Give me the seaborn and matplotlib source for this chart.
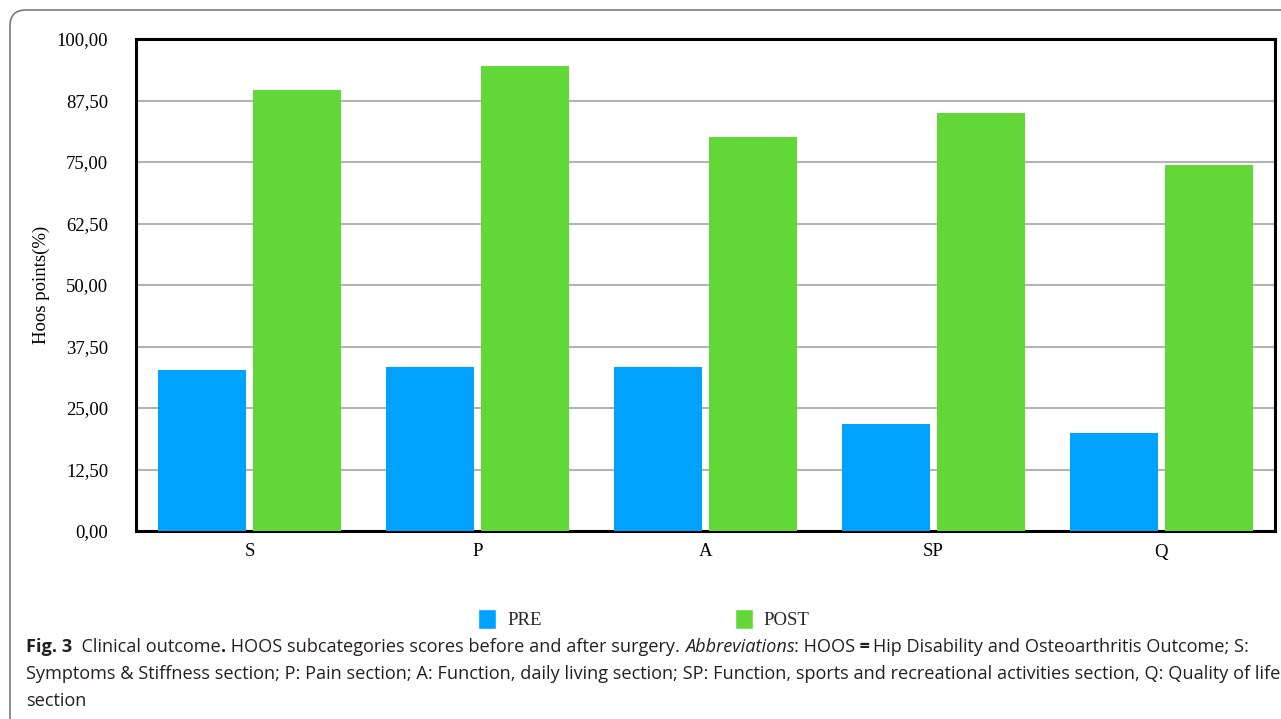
import pandas as pd
import numpy as np
import matplotlib
matplotlib.use("Agg")
import matplotlib.pyplot as plt
import seaborn as sns
from matplotlib.patches import FancyBboxPatch, Patch
from matplotlib.ticker import FuncFormatter

# data
sections = ["S", "P", "A", "SP", "Q"]
pre_scores = [32.7, 33.3, 33.3, 21.7, 19.9]
post_scores = [89.6, 94.5, 80.1, 85.0, 74.4]
periods = ["PRE", "POST"]
y_ticks = [0, 12.5, 25, 37.5, 50, 62.5, 75, 87.5, 100]

df = pd.DataFrame({
    "Section": sections * 2,
    "Score": pre_scores + post_scores,
    "Period": [periods[0]] * len(sections) + [periods[1]] * len(sections),
})

BLUE = "#00A2FF"
GREEN = "#62D838"

sns.set_theme(style="white")
plt.rcParams["font.family"] = ["Liberation Serif", "DejaVu Serif"]

fig = plt.figure(figsize=(12.81, 7.19), dpi=100)
ax = fig.add_axes([136 / 1281, 1 - 531 / 719, (1275 - 136) / 1281, (531 - 39) / 719])

sns.barplot(data=df, x="Section", y="Score", hue="Period", palette=[BLUE, GREEN],
            width=0.834, gap=0.074, legend=False, ax=ax, zorder=3, saturation=1,
            linewidth=0, edgecolor="none")

ax.set_ylim(0, 100)
ax.set_yticks(y_ticks)
ax.yaxis.set_major_formatter(FuncFormatter(lambda v, p: f"{v:.2f}".replace(".", ",")))
ax.grid(axis="y", color="#B3B3B3", linewidth=1.5, zorder=0)
ax.set_axisbelow(True)
ax.tick_params(axis="both", length=0, labelsize=13.5, colors="black")
ax.tick_params(axis="y", pad=20)
ax.tick_params(axis="x", pad=9)
ax.set_xlabel("")
ax.set_ylabel("Hoos points(%)", fontsize=13.5, labelpad=5, color="black")
for s in ax.spines.values():
    s.set_color("black")
    s.set_linewidth(2.2)
    s.set_visible(True)

handles = [Patch(facecolor=BLUE), Patch(facecolor=GREEN)]
fig.legend(handles, periods, loc="center", bbox_to_anchor=(644 / 1281, 1 - 619 / 719),
           ncol=2, frameon=False, fontsize=13.5, handlelength=0.95, handleheight=1.3,
           handletextpad=0.6, columnspacing=10.3)

# page border with rounded corner
border = FancyBboxPatch((0.10, -1.0), 14.0, 8.09, boxstyle="round,pad=0,rounding_size=0.16",
                        transform=fig.dpi_scale_trans, facecolor="none",
                        edgecolor="#7A7A7A", linewidth=1.2, clip_on=False)
fig.patches.append(border)

# caption
cap_font = ["Open Sans", "DejaVu Sans"]
cap_color = "#231F20"
renderer = fig.canvas.get_renderer()
line2 = ("Symptoms & Stiffness section; P: Pain section; A: Function, daily living section; "
         "SP: Function, sports and recreational activities section, Q: Quality of life")
x0 = 26
t2 = fig.text(x0 / 1281, 1 - 674 / 719, line2, fontsize=12, family=cap_font,
              va="center", ha="left", color=cap_color)
cap_size = 12 * (1278 - x0) / t2.get_window_extent(renderer).width
t2.set_fontsize(cap_size)
fig.text(x0 / 1281, 1 - 701 / 719, "section", fontsize=cap_size, family=cap_font,
         va="center", ha="left", color=cap_color)

line1 = [
    ("Fig. 3", "bold", "normal"),
    ("  Clinical outcome", "normal", "normal"),
    (".", "bold", "normal"),
    (" HOOS subcategories scores before and after surgery. ", "normal", "normal"),
    ("Abbreviations", "normal", "italic"),
    (": HOOS", "normal", "normal"),
    ("\u2009=\u2009", "bold", "normal"),
    ("Hip Disability and Osteoarthritis Outcome; S:", "normal", "normal"),
]
x = x0
for txt, w, st in line1:
    t = fig.text(x / 1281, 1 - 647 / 719, txt, fontsize=cap_size, fontweight=w, fontstyle=st,
                 family=cap_font, va="center", ha="left", color=cap_color)
    x += t.get_window_extent(renderer).width

fig.savefig("out.png", dpi=100)
